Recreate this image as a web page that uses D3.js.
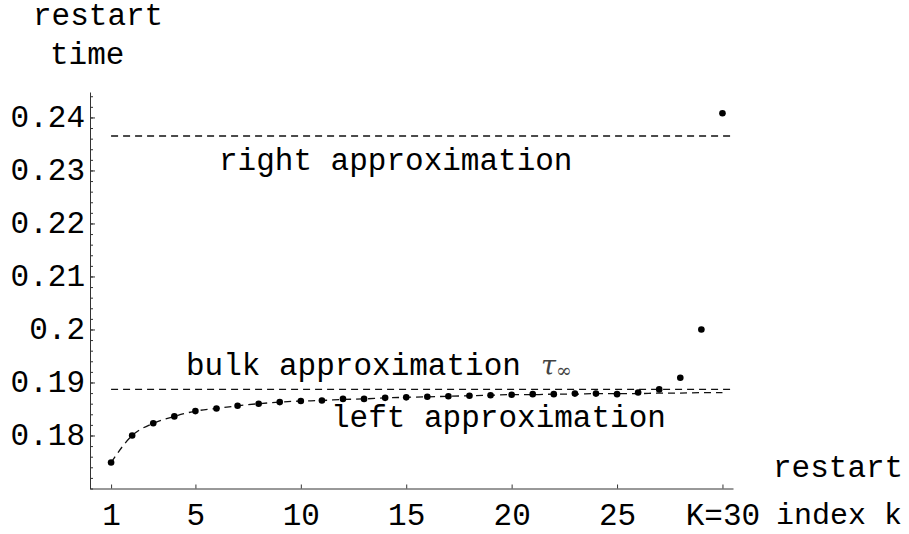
<!DOCTYPE html>
<html>
<head>
<meta charset="utf-8">
<script src="https://cdn.jsdelivr.net/npm/d3@7"></script>
<style>
  body { margin: 0; background: #fff; }
  svg text { font-family: "Liberation Mono", "DejaVu Sans Mono", monospace; fill: #000; }
</style>
</head>
<body>
<div id="chart"></div>
<script>
// restart index k = 1..30 and the restart time at each index
const restartIndex = d3.range(1, 31);
const restartTime = [
  0.1749, 0.1800, 0.1823, 0.1836, 0.1846, 0.1851, 0.1856, 0.1860, 0.1863, 0.1865,
  0.1866, 0.1869, 0.1869, 0.1871, 0.1872, 0.1873, 0.1874, 0.1875, 0.1876, 0.1877,
  0.1878, 0.1878, 0.1879, 0.1879, 0.1878, 0.1881, 0.1887, 0.1909, 0.2000, 0.2408
];
// dashed "left approximation" curve through the same indices
const leftApprox = [
  0.1749, 0.1800, 0.1823, 0.1836, 0.1846, 0.1851, 0.1856, 0.1860, 0.1863, 0.1865,
  0.1866, 0.1868, 0.1869, 0.1871, 0.1872, 0.1873, 0.1874, 0.1875, 0.1876, 0.1877,
  0.1877, 0.1878, 0.1878, 0.1879, 0.1879, 0.1879, 0.1880, 0.1880, 0.1881, 0.1881
];
const bulkApprox = 0.1887;
const rightApprox = 0.2365;
const lineSpan = [1, 30.5];

const xTicks = [1, 5, 10, 15, 20, 25, 30];
const yTicks = [0.18, 0.19, 0.2, 0.21, 0.22, 0.23, 0.24];

const width = 909;
const height = 534;
const fontSize = 31;

const x = d3.scaleLinear().domain([0, 30.5]).range([90, 733]);
const y = d3.scaleLinear().domain([0.17, 0.2448]).range([488.5, 92]);

const svg = d3
  .select("#chart")
  .append("svg")
  .attr("width", width)
  .attr("height", height)
  .attr("xmlns", "http://www.w3.org/2000/svg");

// minor y ticks every 0.002
const yMinor = d3.range(0.17, 0.2449, 0.002);
svg
  .append("g")
  .attr("transform", `translate(${x(0)},0)`)
  .call(d3.axisLeft(y).tickValues(yMinor).tickSizeInner(-3).tickSizeOuter(0).tickFormat(""))
  .call((g) => g.select(".domain").remove())
  .call((g) => g.selectAll("line").attr("stroke", "#333"));

const yAxis = svg
  .append("g")
  .attr("transform", `translate(${x(0)},0)`)
  .call(
    d3
      .axisLeft(y)
      .tickValues(yTicks)
      .tickSizeInner(-5)
      .tickSizeOuter(0)
      .tickFormat((d) => String(+d.toFixed(2)))
  );
yAxis.selectAll("path, line").attr("stroke", "#333");
yAxis
  .selectAll("text")
  .attr("x", -5)
  .attr("dy", "0.3em")
  .attr("font-size", fontSize)
  .attr("font-family", null);

const xAxis = svg
  .append("g")
  .attr("transform", `translate(0,${y(0.17)})`)
  .call(
    d3
      .axisBottom(x)
      .tickValues(xTicks)
      .tickSizeInner(-4)
      .tickSizeOuter(0)
      .tickFormat((d) => (d === 30 ? "K=30" : d))
  );
xAxis.selectAll("path, line").attr("stroke", "#333");
xAxis
  .selectAll("text")
  .attr("y", 36.5)
  .attr("dy", null)
  .attr("font-size", fontSize)
  .attr("font-family", null);

// horizontal approximations
const dashed = (sel) =>
  sel.attr("fill", "none").attr("stroke", "#111").attr("stroke-width", 1.3).attr("stroke-dasharray", "7,5");

[rightApprox, bulkApprox].forEach((v) => {
  svg
    .append("line")
    .attr("x1", x(lineSpan[0]))
    .attr("x2", x(lineSpan[1]))
    .attr("y1", y(v))
    .attr("y2", y(v))
    .call(dashed);
});

const leftLine = d3
  .line()
  .x((d, i) => x(restartIndex[i]))
  .y((d) => y(d))
  .curve(d3.curveMonotoneX);

svg.append("path").attr("d", leftLine(leftApprox)).call(dashed);

svg
  .append("g")
  .selectAll("circle")
  .data(restartTime)
  .enter()
  .append("circle")
  .attr("cx", (d, i) => x(restartIndex[i]))
  .attr("cy", (d) => y(d))
  .attr("r", 3.3)
  .attr("fill", "#000");

// labels
const label = (txt, px, py) =>
  svg.append("text").attr("x", px).attr("y", py).attr("font-size", fontSize).text(txt);

label("restart", 33, 25);
label("time", 50, 64);
label("restart", 773, 477);
label("index k", 776, 524).attr("font-size", 30);
label("right approximation", 219, 170);
label("left approximation", 331, 427);

const bulk = label("bulk approximation ", 186, 375).attr("xml:space", "preserve");
bulk
  .append("tspan")
  .attr("x", 541)
  .attr("font-family", "'DejaVu Serif', serif")
  .attr("font-style", "italic")
  .attr("font-size", 27)
  .attr("fill", "#444")
  .text("τ");
bulk
  .append("tspan")
  .attr("font-family", "'DejaVu Serif', serif")
  .attr("font-size", 19)
  .attr("fill", "#444")
  .attr("dy", 2)
  .text("∞");
</script>
</body>
</html>
